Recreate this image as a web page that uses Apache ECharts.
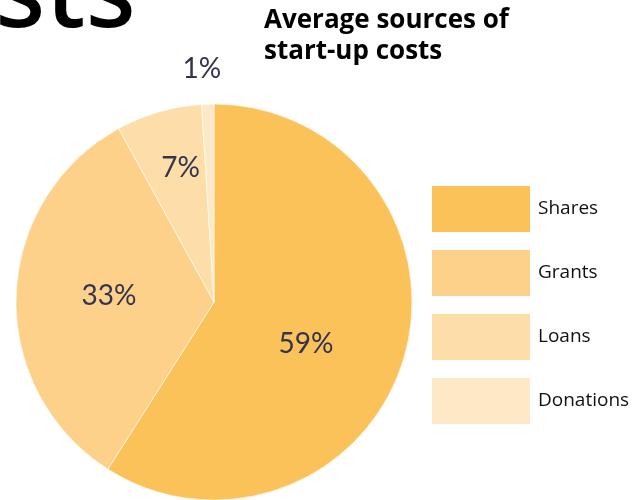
<!DOCTYPE html>
<html>
<head>
<meta charset="utf-8">
<script src="https://cdn.jsdelivr.net/npm/echarts@6/dist/echarts.min.js"></script>
<style>
  html, body { margin: 0; padding: 0; background: #fff; }
  #chart { width: 643px; height: 500px; }
</style>
</head>
<body>
<div id="chart"></div>
<script>
// Funding sources and their average share of start-up costs (%)
const categories = ['Shares', 'Grants', 'Loans', 'Donations'];
const shares = [59, 33, 7, 1];
const sliceColors = ['#fcc25a', '#fdd189', '#fddea8', '#fee9c7'];

// Nudges that move each percentage label off the default inside spot
const labelNudge = [[-6, 14], [-3, -3], [-5, -36], [-9, -131]];

const chart = echarts.init(document.getElementById('chart'), null, { renderer: 'canvas' });

chart.setOption({
  animation: false,
  backgroundColor: '#ffffff',
  title: {
    text: 'Average sources of\nstart-up costs',
    left: 264,
    top: 5,
    padding: 0,
    textStyle: {
      fontFamily: 'Open Sans',
      fontWeight: 'bold',
      fontSize: 26,
      lineHeight: 31,
      color: '#000000'
    }
  },
  graphic: [{
    type: 'text',
    right: 643 - 136,
    top: -55,
    style: {
      text: 'Costs',
      fontFamily: 'Noto Sans',
      fontWeight: 500,
      fontSize: 104,
      fill: '#000000'
    }
  }],
  legend: {
    orient: 'vertical',
    left: 432,
    top: 186,
    padding: 0,
    itemWidth: 98,
    itemHeight: 46,
    itemGap: 18,
    icon: 'rect',
    selectedMode: false,
    itemStyle: { borderWidth: 0 },
    textStyle: {
      fontFamily: 'Open Sans',
      fontSize: 19,
      color: '#111111',
      padding: [0, 0, 0, 3]
    },
    data: categories
  },
  series: [{
    type: 'pie',
    center: [214, 302],
    radius: 198,
    startAngle: 90,
    clockwise: true,
    avoidLabelOverlap: false,
    itemStyle: { borderColor: '#ffffff', borderWidth: 0.6 },
    label: {
      show: true,
      position: 'inside',
      formatter: '{c}%',
      fontFamily: 'Lato',
      fontSize: 28,
      color: '#34344f'
    },
    labelLine: { show: false },
    labelLayout: function (p) {
      const n = labelNudge[p.dataIndex];
      return { dx: n[0], dy: n[1] };
    },
    emphasis: { disabled: true },
    data: categories.map((name, i) => ({
      name: name,
      value: shares[i],
      itemStyle: { color: sliceColors[i] }
    }))
  }]
});
</script>
</body>
</html>
